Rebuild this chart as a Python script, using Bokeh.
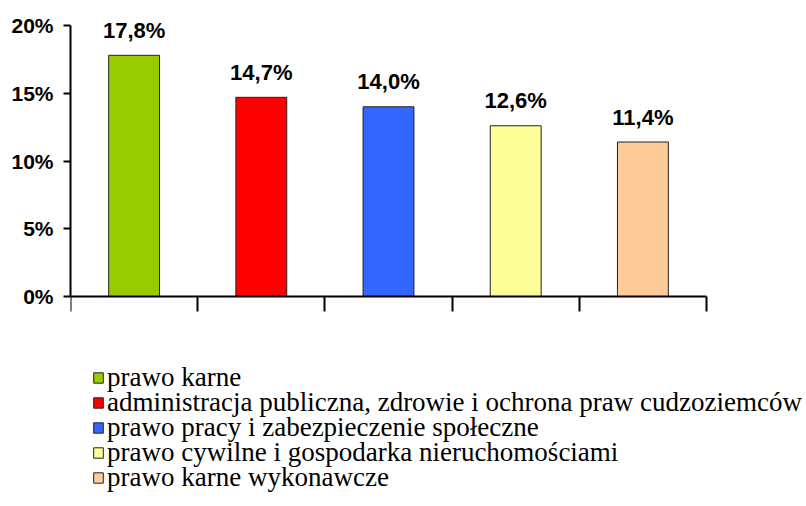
from bokeh.plotting import figure
from bokeh.models import Range1d, FixedTicker, PrintfTickFormatter, Legend, LegendItem, ColumnDataSource, LinearAxis
from bokeh.core.properties import value
from bokeh.embed import file_html
from bokeh.resources import INLINE

categories = ["prawo karne",
              "administracja publiczna, zdrowie i ochrona praw cudzoziemców",
              "prawo pracy i zabezpieczenie społeczne",
              "prawo cywilne i gospodarka nieruchomościami",
              "prawo karne wykonawcze"]
values = [17.8, 14.7, 14.0, 12.6, 11.4]
colors = ["#99CC00", "#FF0000", "#3366FF", "#FFFF99", "#FFCC99"]
y_ticks = [0, 5, 10, 15, 20]

n = len(values)
x = [i + 0.5 for i in range(n)]
labels = [f"{v:.1f}".replace(".", ",") + "%" for v in values]

# layout (pixels): axes area 636 x 271 starting at (70, 25); frame covers whole canvas
W, H = 806, 506
left, top = 70, 25
axis_w, axis_h = 636, 271
frame_w, frame_h = W - left, H
x_end = n * frame_w / axis_w
y_end = 20 + top * 20 / axis_h
y_start = 20 - (H - top) * 20 / axis_h

p = figure(width=W, height=H, output_backend="svg", toolbar_location=None,
           x_range=Range1d(0, x_end), y_range=Range1d(y_start, y_end),
           x_axis_location=None,
           min_border_left=left, min_border_right=0, min_border_top=0, min_border_bottom=0)
p.outline_line_color = None
p.grid.visible = False
p.background_fill_color = None
p.border_fill_color = "white"

src = ColumnDataSource(dict(x=x, top=values, color=colors, label=labels))
bars = p.vbar(x="x", top="top", width=0.4, bottom=0, source=src,
              fill_color="color", line_color="#222222", line_width=1)

p.text(x="x", y="top", text="label", source=src, text_align="center", text_baseline="alphabetic",
       y_offset=-25, text_font=value("Liberation Sans"), text_font_style="bold",
       text_font_size="22px", text_color="black")

# category axis at y = 0
xt = list(range(n + 1))
xaxis = LinearAxis(fixed_location=0, bounds=(0, n), ticker=FixedTicker(ticks=xt),
                   major_label_overrides={t: "" for t in xt},
                   major_tick_in=0, major_tick_out=15, minor_tick_line_color=None,
                   axis_line_width=2, major_tick_line_width=2,
                   axis_line_color="black", major_tick_line_color="black")
p.add_layout(xaxis, "below")

p.yaxis.bounds = (0, 20)
p.yaxis.ticker = FixedTicker(ticks=y_ticks)
p.yaxis.formatter = PrintfTickFormatter(format="%d%%")
p.yaxis.major_tick_in = 0
p.yaxis.major_tick_out = 7
p.yaxis.minor_tick_line_color = None
p.yaxis.axis_line_width = 2
p.yaxis.major_tick_line_width = 2
p.yaxis.axis_line_color = "black"
p.yaxis.major_tick_line_color = "black"
p.yaxis.major_label_standoff = 10
p.yaxis.major_label_text_font = "Liberation Sans"
p.yaxis.major_label_text_font_style = "bold"
p.yaxis.major_label_text_font_size = "21px"
p.yaxis.major_label_text_color = "black"

# legend: one entry per row, rows 25 px apart
row_pitch = 25
first_row_bottom = 113
for i in range(n):
    item = LegendItem(label=categories[i], renderers=[bars], index=i)
    lg = Legend(items=[item], location=(22, first_row_bottom - row_pitch * i),
                glyph_width=12, glyph_height=13, label_standoff=3, spacing=0,
                label_height=20, padding=0, margin=0,
                border_line_color=None, background_fill_alpha=0,
                label_text_font="Liberation Serif",
                label_text_font_size="27px", label_text_color="black")
    p.add_layout(lg, "center")

open("out.html", "w").write(file_html(p, INLINE))
